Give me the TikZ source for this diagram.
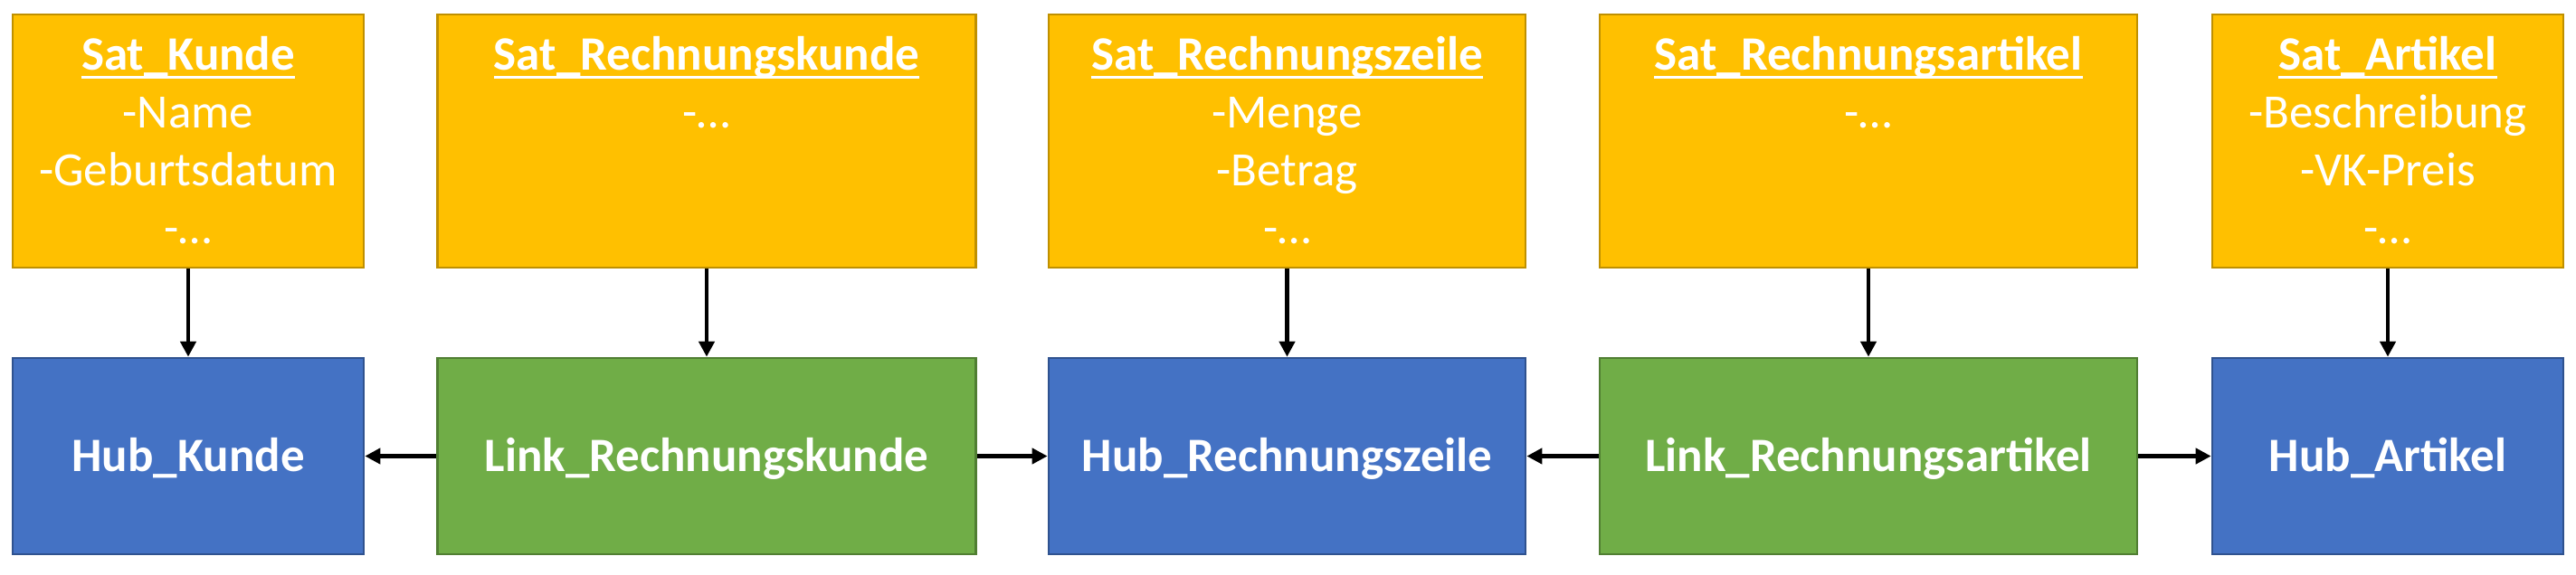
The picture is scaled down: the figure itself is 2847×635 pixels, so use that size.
\documentclass[tikz,border=0pt]{standalone}
\usepackage{fontspec}
\setmainfont{Carlito}
\usetikzlibrary{arrows.meta,calc}
\definecolor{satfill}{HTML}{FFC000}
\definecolor{satdraw}{HTML}{BF9000}
\definecolor{hubfill}{HTML}{4472C4}
\definecolor{hubdraw}{HTML}{2F528F}
\definecolor{linkfill}{HTML}{70AD47}
\definecolor{linkdraw}{HTML}{507E32}
\newcommand\myul[1]{\setbox0\hbox{#1}\rlap{\rule[-10pt]{\wd0}{3pt}}\box0}
\newcommand\sattab[1]{\setlength\tabcolsep{0pt}\renewcommand\arraystretch{1}\begin{tabular}[t]{c}#1\end{tabular}}
\tikzset{
  boxbase/.style={rectangle, line width=2.7pt, inner sep=0pt, text=white,
    font=\fontsize{53}{64.3}\selectfont\bfseries, text height=34pt, text depth=0pt},
  satbox/.style={boxbase, fill=satfill, draw=satdraw, minimum height=280pt},
  hubbox/.style={boxbase, fill=hubfill, draw=hubdraw, minimum height=217pt},
  linkbox/.style={boxbase, fill=linkfill, draw=linkdraw, minimum height=217pt},
  sattext/.style={anchor=base, inner sep=0pt, text=white, font=\fontsize{53}{64.3}\selectfont},
  conn/.style={line width=4.5pt, -{Triangle[length=17pt,width=17pt]}}
}
\begin{document}
\begin{tikzpicture}[x=1pt,y=-1pt]
\useasboundingbox (0,0) rectangle (2847,635);
% satellites
\node[satbox, minimum width=388pt] (s1) at (208,156) {};
\node[satbox, minimum width=595pt] (s2) at (781,156) {};
\node[satbox, minimum width=527pt] (s3) at (1422.5,156) {};
\node[satbox, minimum width=594pt] (s4) at (2065,156) {};
\node[satbox, minimum width=388pt] (s5) at (2639,156) {};
\node[sattext] (t1) at (208,77) {\sattab{\bfseries\myul{Sat\_Kunde}\\-Name\\-Geburtsdatum\\-…}};
\node[sattext] (t2) at (781,77) {\sattab{\bfseries\myul{Sat\_Rechnungskunde}\\-…}};
\node[sattext] (t3) at (1422.5,77) {\sattab{\bfseries\myul{Sat\_Rechnungszeile}\\-Menge\\-Betrag\\-…}};
\node[sattext] (t4) at (2065,77) {\sattab{\bfseries\myul{Sat\_Rechnungsartikel}\\-…}};
\node[sattext] (t5) at (2639,77) {\sattab{\bfseries\myul{Sat\_Artikel}\\-Beschreibung\\-VK-Preis\\-…}};
% hubs and links
\node[hubbox, minimum width=388pt] (h1) at (208,504.5) {Hub\_Kunde};
\node[linkbox, minimum width=595pt] (l1) at (781,504.5) {Link\_Rechnungskunde};
\node[hubbox, minimum width=527pt] (h2) at (1422.5,504.5) {Hub\_Rechnungszeile};
\node[linkbox, minimum width=594pt] (l2) at (2065,504.5) {Link\_Rechnungsartikel};
\node[hubbox, minimum width=388pt] (h3) at (2639,504.5) {Hub\_Artikel};
% connectors
\draw[conn] (s1.south) -- (h1.north);
\draw[conn] (s2.south) -- (l1.north);
\draw[conn] (s3.south) -- (h2.north);
\draw[conn] (s4.south) -- (l2.north);
\draw[conn] (s5.south) -- (h3.north);
\draw[conn] (l1.west) -- (h1.east);
\draw[conn] (l1.east) -- (h2.west);
\draw[conn] (l2.west) -- (h2.east);
\draw[conn] (l2.east) -- (h3.west);
\end{tikzpicture}
\end{document}
